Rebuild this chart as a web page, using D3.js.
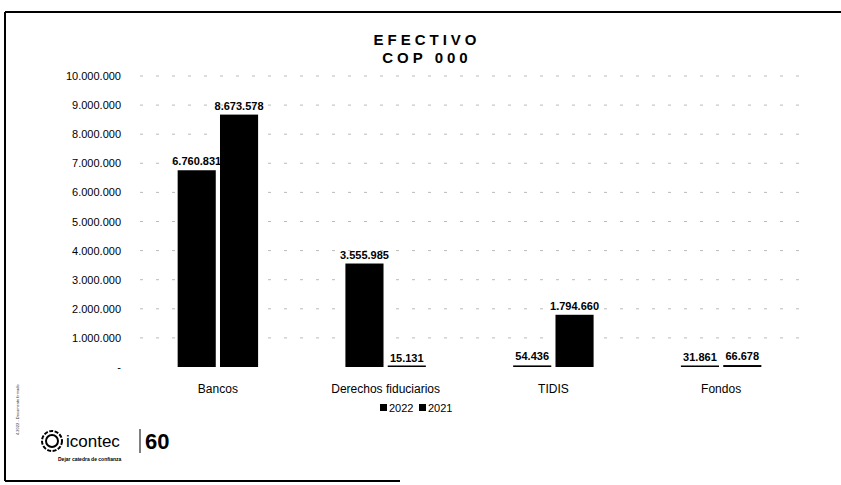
<!DOCTYPE html>
<html>
<head>
<meta charset="utf-8">
<script src="https://cdn.jsdelivr.net/npm/d3@7"></script>
<style>
  body { margin: 0; background: #fff; }
  svg { font-family: "Liberation Sans", Arial, sans-serif; }
  .tick text { font-size: 11px; fill: #000; }
  .barLabel { font-size: 11px; font-weight: bold; fill: #000; }
</style>
</head>
<body>
<script>
(function(){

    //chart data
    var categories = ["Bancos", "Derechos fiduciarios", "TIDIS", "Fondos"];
    var seriesNames = ["2022", "2021"];
    var values2022 = [6760831, 3555985, 54436, 31861];
    var values2021 = [8673578, 15131, 1794660, 66678];
    var tickValues = [0, 1000000, 2000000, 3000000, 4000000, 5000000, 6000000, 7000000, 8000000, 9000000, 10000000];

    var width = 841, height = 485;

    var svg = d3.select("body")
        .append("svg")
        .attr("width", width)
        .attr("height", height);

    //scanned page border
    svg.append("line").attr("x1", 5).attr("x2", 841).attr("y1", 12).attr("y2", 12)
        .attr("stroke", "#000").attr("stroke-width", 2);
    svg.append("line").attr("x1", 5).attr("x2", 5).attr("y1", 12).attr("y2", 481)
        .attr("stroke", "#000").attr("stroke-width", 2);
    svg.append("line").attr("x1", 5).attr("x2", 400).attr("y1", 481).attr("y2", 481)
        .attr("stroke", "#000").attr("stroke-width", 2);

    //title
    var title = svg.append("text")
        .attr("text-anchor", "middle")
        .style("font-weight", "bold")
        .style("font-size", "15px")
        .style("letter-spacing", "4px");
    title.append("tspan").attr("x", 427).attr("y", 45).text("EFECTIVO");
    title.append("tspan").attr("x", 427).attr("y", 63).text("COP 000");

    //scales
    var x0 = d3.scaleBand()
        .domain(categories)
        .range([134, 805])
        .paddingInner(0.47)
        .paddingOuter(0.235);

    var x1 = d3.scaleBand()
        .domain(seriesNames)
        .range([0, x0.bandwidth()])
        .padding(0.1);

    var yScale = d3.scaleLinear()
        .domain([0, 10000000])
        .range([367, 76]);

    var fmt = function(v){
        return d3.format(",")(v).replace(/,/g, ".");
    };

    //faint gridlines
    svg.append("g")
        .selectAll("line")
        .data(tickValues.slice(1))
        .enter()
        .append("line")
        .attr("x1", 140)
        .attr("x2", 800)
        .attr("y1", function(d){ return yScale(d); })
        .attr("y2", function(d){ return yScale(d); })
        .attr("stroke", "#bbb")
        .attr("stroke-width", 1)
        .attr("stroke-dasharray", "3,13");

    //y axis
    var yAxis = d3.axisLeft(yScale)
        .tickValues(tickValues)
        .tickSize(0)
        .tickPadding(0)
        .tickFormat(function(d){ return d === 0 ? "-" : fmt(d); });

    var axis = svg.append("g")
        .attr("transform", "translate(121,0)")
        .call(yAxis);
    axis.select(".domain").remove();

    //x axis labels
    var xAxis = d3.axisBottom(x0).tickSize(0).tickPadding(0);
    var xg = svg.append("g")
        .attr("transform", "translate(0,384)")
        .call(xAxis);
    xg.select(".domain").remove();
    xg.selectAll("text").style("font-size", "12px");

    //bars
    var rows = categories.map(function(c, i){
        return { cat: c, vals: [
            { s: "2022", v: values2022[i] },
            { s: "2021", v: values2021[i] }
        ]};
    });

    var groups = svg.selectAll(".grp")
        .data(rows)
        .enter()
        .append("g")
        .attr("class", "grp")
        .attr("transform", function(d){ return "translate(" + x0(d.cat) + ",0)"; });

    groups.selectAll("rect")
        .data(function(d){ return d.vals; })
        .enter()
        .append("rect")
        .attr("x", function(d){ return x1(d.s); })
        .attr("width", x1.bandwidth())
        .attr("y", function(d){ return Math.min(yScale(d.v), yScale(0) - 1.5); })
        .attr("height", function(d){ return Math.max(yScale(0) - yScale(d.v), 1.5); })
        .attr("fill", "#000");

    groups.selectAll(".barLabel")
        .data(function(d){ return d.vals; })
        .enter()
        .append("text")
        .attr("class", "barLabel")
        .attr("text-anchor", "middle")
        .attr("x", function(d){ return x1(d.s) + x1.bandwidth() / 2; })
        .attr("y", function(d){ return yScale(d.v) - 5; })
        .text(function(d){ return fmt(d.v); });

    //legend
    var legend = svg.append("g").attr("transform", "translate(380,412)");
    seriesNames.forEach(function(s, i){
        var lg = legend.append("g").attr("transform", "translate(" + (i * 39) + ",0)");
        lg.append("rect").attr("x", 0).attr("y", -8).attr("width", 7).attr("height", 7).attr("fill", "#000");
        lg.append("text").attr("x", 9).attr("y", 0).style("font-size", "11px").text(s);
    });

    //logo
    var logo = svg.append("g").attr("transform", "translate(52,441)");
    logo.append("circle").attr("r", 10).attr("fill", "none").attr("stroke", "#000")
        .attr("stroke-width", 2).attr("stroke-dasharray", "4,1.5");
    logo.append("circle").attr("r", 6).attr("fill", "none").attr("stroke", "#000").attr("stroke-width", 2);
    logo.append("text").attr("x", 14).attr("y", 6).style("font-size", "17px").text("icontec");
    logo.append("line").attr("x1", 88).attr("x2", 88).attr("y1", -12).attr("y2", 12)
        .attr("stroke", "#000").attr("stroke-width", 1);
    logo.append("text").attr("x", 93).attr("y", 8).style("font-size", "22px")
        .style("font-weight", "bold").text("60");
    logo.append("text").attr("x", 6).attr("y", 20).style("font-size", "5px")
        .style("font-weight", "bold").text("Dejar catedra de confianza");

    //vertical margin note
    svg.append("text")
        .attr("transform", "translate(19,435) rotate(-90)")
        .style("font-size", "4px")
        .attr("fill", "#333")
        .text("4.2022 - Documento firmado");

})();
</script>
</body>
</html>
